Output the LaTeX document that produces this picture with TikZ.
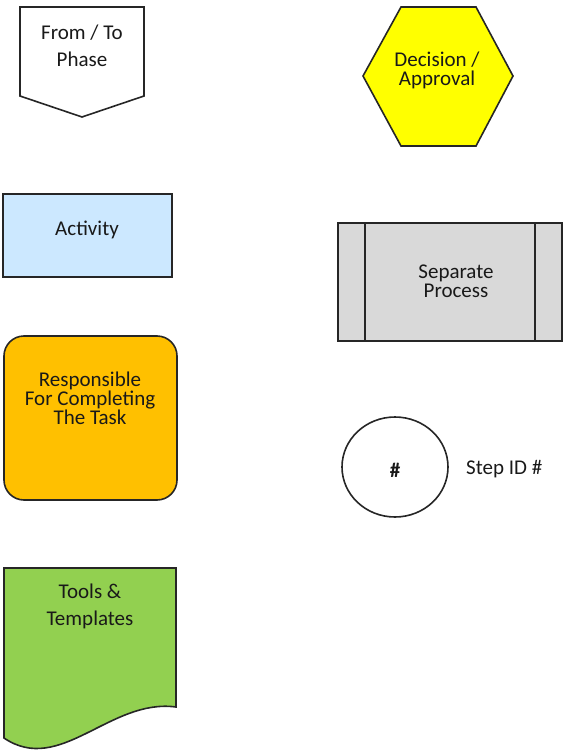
\documentclass[tikz,border=0pt]{standalone}
\usepackage{fontspec}
\setmainfont{Carlito}
\usepackage{xcolor}
\usepackage{tikz}

\definecolor{ActBlue}{HTML}{CCE8FF}
\definecolor{RespOrange}{HTML}{FFC000}
\definecolor{DecYellow}{HTML}{FFFF00}
\definecolor{ProcGray}{HTML}{D9D9D9}
\definecolor{ToolGreen}{HTML}{92D050}

\begin{document}
\begin{tikzpicture}[x=1pt, y=-1pt, line width=1.6pt,
        shp/.style = {draw=black!85,
            line join=miter},
        txt/.style = {align=center,
            text=black!90,
            font=\fontsize{21}{19}\selectfont}]

        \useasboundingbox (0,0) rectangle (574,751);

        % From / To Phase
        \draw[shp,fill=white] (20,7) -- (144,7) -- (144,96) -- (82,117) -- (20,96) -- cycle;
        \node[txt, font=\fontsize{21}{27}\selectfont] (phase) at (82,46) {From / To\\Phase};

        % Decision
        \draw[shp,fill=DecYellow] (363,76) -- (401,7) -- (476,7) -- (513,76) -- (476,146) -- (401,146) -- cycle;
        \node[txt] (decision) at (437,70) {Decision /\\Approval};

        % Activity
        \draw[shp,fill=ActBlue] (3,194) rectangle (172,277);
        \node[txt] (activity) at (87,230) {Activity};

        % Separate Process
        \draw[shp,fill=ProcGray] (338,223) rectangle (562,341);
        \draw[shp] (365,223) -- (365,341);
        \draw[shp] (535,223) -- (535,341);
        \node[txt] (process) at (456,281) {Separate\\Process};

        % Responsible
        \draw[shp,fill=RespOrange,rounded corners=20pt] (4,336) rectangle (177,500);
        \node[txt] (resp) at (90,398) {Responsible\\For Completing\\The Task};

        % Step ID
        \draw[shp,fill=white] (395,467) ellipse [x radius=53, y radius=50];
        \node[txt, font=\bfseries\fontsize{21}{19}\selectfont] (step) at (395,470) {\#};
        \node[txt, anchor=west] (stepid) at (462,469) {Step ID \#};

        % Tools & Templates
        \draw[shp,fill=ToolGreen] (4,568) -- (176,568) -- (176,707)
            .. controls (110,698) and (60,776) .. (4,738) -- cycle;
        \node[txt, font=\fontsize{21}{27}\selectfont] (tools) at (90,606) {Tools \&\\Templates};
    \end{tikzpicture}
\end{document}
